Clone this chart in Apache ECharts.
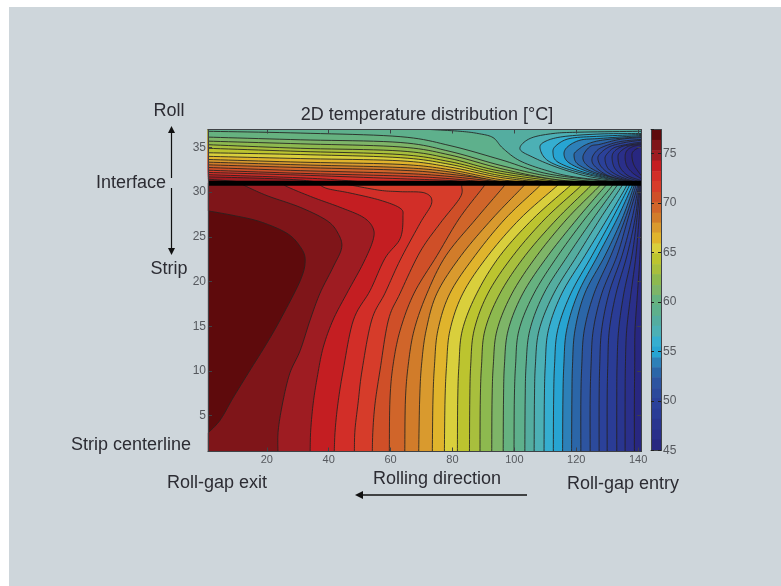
<!DOCTYPE html>
<html><head><meta charset="utf-8">
<style>
html,body{margin:0;padding:0;background:#fff;width:781px;height:586px;overflow:hidden}
#panel{position:absolute;left:9px;top:7px;width:772px;height:579px;background:#ced6db}
#chart{position:absolute;left:0;top:0;width:781px;height:586px;filter:blur(0.45px)}
</style>
<script src="https://cdn.jsdelivr.net/npm/echarts@6/dist/echarts.min.js"></script>
</head><body><div id="panel"></div><div id="chart"></div>
<script>
const xTicks=[20,40,60,80,100,120,140];
const yTicks=[5,10,15,20,25,30,35];
const interfaceY=31;
const xRange=[1,141], yRange=[1,37];
const colorbarRange=[45,77.4];
// band boundaries (deg C), hottest first; band k lies between levels k and k+1
const levels=[77.4,76.35,75.3,74.27,73.2,72.2,71.1,70.1,69,68,67,65.9,64.9,63.8,62.8,61.7,60.7,59.7,58.6,57.6,56.5,55.5,54.4,53.4,52.4,51.3,50.3,49.2,48.2,47.1,46.1,45];
const bandColors=['#5e0a0c','#7f1519','#9e1c22','#c41e22','#d22e28','#d63c2a','#cf4f28','#d0652a','#d17c2a','#d99a2e','#e0b42c','#d9cf3c','#bcc42f','#a8bf3d','#8db94f','#7eb568','#66b280','#5eb08c','#54ada0','#4cb0b5','#35aed0','#27a4d2','#2d80b8','#2b66a8','#2d54a0','#2c4a9c','#2b419a','#2a3c96','#29358f','#2a2f8a','#282780'];
// strip contours with a nose, hottest first, as [x,y]
const stripC1=[[1,3.07],[4.9,4.5],[9.1,7],[14.6,10.1],[20,13.1],[24.3,15.7],[30.8,20.1],[32.4,22.4],[30.8,23.9],[26.5,25.4],[17.8,26.7],[9.1,27.4],[1,27.9]];
const stripC2=[[23.6,1],[23.7,3.4],[25.3,6.75],[27.5,9.8],[30.8,12.3],[34,15.7],[37.2,18.7],[41.4,21.6],[44.2,23.8],[43,25.4],[39.5,26.8],[30.8,28.3],[20.1,29.6],[13,30.7],[11.7,31]];
const stripC3=[[34,1],[34.2,3.4],[35,6.4],[36.3,9.3],[38.2,12.6],[41.4,15.7],[45.9,18.7],[51.1,22],[54.3,24.6],[54.3,26],[51.1,27.2],[43.7,28.3],[35,29.4],[26.6,30.6],[25.3,31]];
const stripC4=[[41.8,1],[42.1,3.4],[43,6.4],[44.7,10.1],[48,15.7],[53.4,19],[58.2,22.6],[63.1,24.8],[64,27.2],[63.1,28.2],[56.6,29.1],[46.9,29.9],[39.5,30.4],[36.3,31]];
const stripC5=[[48.3,1],[48.5,3.4],[49.5,6.4],[50.8,10.1],[53.9,15.7],[58.2,18.7],[63.1,22.4],[69.5,26.5],[73.3,28.8],[71.1,29.9],[63.1,30.05],[56.6,30.2],[46.9,30.8],[43.7,31]];
const stripC6=[[54.1,1],[54.3,3.4],[55,6.4],[56.6,10.1],[59.3,15.7],[63.1,18.7],[69.5,23.3],[76,26.5],[82.5,29.4],[83,30.7],[83.1,31]];
// strip contours 7..30: x at each of these depths
const stripRows=[1,6.75,10.65,14.56,18.7,22.9,27,30.4,31];
const stripC7=[59.6,59.8,60.8,63.1,67.6,75,82.1,89.6,90.9];
const stripC8=[64.6,64.8,65.7,67.6,71.8,77.9,87.6,96,97.3];
const stripC9=[69.1,69.4,70,71.5,75,82.8,92.8,102.2,103.8];
const stripC10=[73.5,73.7,74.2,75.3,79.2,87.3,97,107.3,109];
const stripC11=[77.4,77.6,78.1,79.2,83.4,91.5,101.8,112.8,114.8];
const stripC12=[81.6,81.7,82.1,83.2,87.9,95.4,106,117,119];
const stripC13=[85.5,85.6,85.9,87,91.5,99.6,109.9,120.6,122.2];
const stripC14=[88.9,89,89.4,90.5,95.4,103.5,113.8,123.8,125.4];
const stripC15=[92.7,92.8,93.2,94.4,99.3,107.3,117,126.7,128.3];
const stripC16=[96.4,96.5,96.8,98,102.8,110.9,120.3,128.7,130.3];
const stripC17=[99.9,100,100.4,101.5,106.4,114.1,122.8,130.9,132.2];
const stripC18=[103.4,103.5,103.8,105,109.6,117.3,125.4,132.5,133.7];
const stripC19=[106.4,106.5,106.8,108,112.8,120.3,127.7,134.2,135.2];
const stripC20=[109.6,109.7,110,111,115.4,122.8,130,135.8,136.4];
const stripC21=[112.6,112.7,113,114,118.3,125.1,131.6,136.7,137.4];
const stripC22=[115.6,115.7,116,116.9,120.6,127,133.2,137.7,138.4];
const stripC23=[118.5,118.6,118.8,119.6,122.8,129.3,134.8,138.4,139];
const stripC24=[121.5,121.5,121.8,122.6,125.8,131.2,135.8,139,139.5];
const stripC25=[124.5,124.5,124.8,125.5,128.3,133.2,136.7,139.6,140];
const stripC26=[127.4,127.4,127.6,128.2,130.6,134.8,138,140,140.3];
const stripC27=[130,130,130.2,130.7,132.9,136.4,139,140.3,140.6];
const stripC28=[133.1,133.1,133.2,133.7,135.4,138,139.6,140.6,140.8];
const stripC29=[135.8,135.8,135.9,136.3,137.7,139.3,140.3,141,141];
const stripC30=[138.8,138.8,138.9,139,139.8,140.6,141,141,141];
// roll contours, as [x,y]; first group runs from the left edge to the interface
const rollC2=[[1,31.45],[9.8,31.2],[14.6,31]];
const rollC3=[[1,31.7],[17.8,31.55],[30.8,31.35],[38.8,31]];
const rollC4=[[1,31.95],[30.8,31.6],[45.3,31.3],[55,31]];
const rollC5=[[1,32.2],[30.8,31.9],[63.1,31.5],[79.2,31.3],[88.9,31]];
const rollC6=[[1,32.45],[30.8,32.1],[63.1,31.8],[79.2,31.5],[93.8,31]];
const rollC7=[[1,32.75],[30.8,32.4],[63.1,32.1],[79.2,31.75],[98.6,31]];
const rollC8=[[1,33.05],[30.8,32.75],[63.1,32.45],[79.2,32],[101.8,31]];
const rollC9=[[1,33.35],[30.8,33.05],[63.1,32.75],[79.2,32.25],[95.4,31.2],[105.1,31]];
const rollC10=[[1,33.65],[30.8,33.35],[63.1,33.1],[79.2,32.5],[95.4,31.4],[108.3,31]];
const rollC11=[[1,34],[30.8,33.75],[63.1,33.5],[79.2,32.8],[95.4,31.65],[111.5,31]];
const rollC12=[[1,34.4],[30.8,34.2],[63.1,33.85],[79.2,33.1],[95.4,31.85],[114.8,31]];
const rollC13=[[1,34.9],[30.8,34.55],[63.1,34.2],[79.2,33.4],[95.4,32.1],[118,31]];
const rollC14=[[1,35.3],[30.8,34.9],[63.1,34.6],[79.2,33.75],[95.4,32.35],[121.2,31]];
const rollC15=[[1,35.7],[30.8,35.4],[63.1,35.05],[79.2,34.15],[95.4,32.65],[111.5,31.5],[126,31]];
const rollC16=[[1,36.15],[30.8,35.85],[63.1,35.55],[79.2,34.55],[95.4,33],[111.5,31.75],[130.9,31]];
const rollC17=[[1,36.8],[30.8,36.6],[63.1,36.2],[79.2,35.2],[95.4,33.65],[111.5,32],[135.8,31]];
const rollC18=[[72.8,37],[82.5,36.8],[88.3,36.55],[93.1,36.1],[96.3,34.9],[101.8,33.5],[110.6,32.4],[120.3,31.65],[138.4,31]];
// second group runs from the right or top edge round a nose to the interface
const rollC19=[[141,36.8],[121.2,36.7],[112.5,36.55],[105.1,36],[101.8,34.85],[106,33.9],[114.8,32.65],[125.4,31.65],[140,31]];
const rollC20=[[141,36.55],[127.7,36.5],[115.7,36.2],[109.9,35.65],[108.3,34.9],[110.9,33.5],[118.9,32.4],[130,31.5],[140.3,31]];
const rollC21=[[141,36.44],[127.7,36.25],[118,36],[113.5,35.2],[112.5,34.4],[114.1,33.35],[122.2,32.25],[132.5,31.4],[140.6,31]];
const rollC22=[[141,36.33],[127.7,36],[121.2,35.8],[117,35],[116.1,34.1],[118,33.2],[124.5,32.2],[134.2,31.3],[140.6,31]];
const rollC23=[[141,36.2],[129.3,35.85],[123.8,35.4],[120.3,34.65],[119.3,34.1],[120.6,33.1],[126.7,32.1],[135.8,31.3],[140.8,31]];
const rollC24=[[141,36.1],[134.2,35.9],[127.7,35.35],[124.5,35.1],[122.2,34],[123.5,33],[128.7,32],[136.7,31.2],[141,31]];
const rollC25=[[141,35.9],[134.2,35.65],[129.3,35.15],[126.7,34.65],[125.1,33.75],[126,32.9],[130.3,31.85],[137.4,31.2],[141,31]];
const rollC26=[[141,35.8],[135.8,35.55],[130.9,35.1],[128,34.4],[127,33.75],[128.3,32.75],[131.9,31.85],[138,31.2],[141,31]];
const rollC27=[[141,35.6],[137.4,35.4],[132.5,35],[130.3,34.4],[129.3,33.75],[130.3,32.65],[133.5,31.85],[138.7,31.2],[141,31.1]];
const rollC28=[[141,35.5],[138.7,35.35],[134.8,35.1],[132.2,34.5],[131.6,33.75],[132.5,32.65],[135.2,31.85],[139.3,31.3],[141,31.2]];
const rollC29=[[141,35.4],[139.3,35.3],[136.7,35.1],[134.2,34.5],[133.5,33.9],[134.2,32.75],[136.7,31.85],[140,31.4],[141,31.3]];
const rollC30=[[141,35.3],[138.4,35.1],[136.4,34.65],[135.8,33.9],[136.4,32.9],[138.4,32.1],[141,31.5]];
const rollC31=[[141,35.1],[138.7,34.65],[138,34.1],[138.7,33],[141,31.85]];

const stripRowTables=[stripC7,stripC8,stripC9,stripC10,stripC11,stripC12,stripC13,stripC14,stripC15,stripC16,stripC17,stripC18,stripC19,stripC20,stripC21,stripC22,stripC23,stripC24,stripC25,stripC26,stripC27,stripC28,stripC29,stripC30];
const [x0,x1]=xRange,[y0,y1]=yRange;
const strip=[
 {k:0,pts:[],close:[[x0,y0],[x1,y0],[x1,interfaceY],[x0,interfaceY]]},
 {k:1,pts:stripC1,close:[[x0,interfaceY],[x1,interfaceY],[x1,y0],[x0,y0]]}
];
[stripC2,stripC3,stripC4,stripC5,stripC6].forEach((p,i)=>strip.push({k:i+2,pts:p,close:[[x1,interfaceY],[x1,y0]]}));
stripRowTables.forEach((t,i)=>strip.push({k:i+7,pts:t.map((x,r)=>[x,stripRows[r]]),close:[[x1,interfaceY],[x1,y0]]}));
const roll=[{k:1,pts:[],close:[[x0,interfaceY],[x1,interfaceY],[x1,y1],[x0,y1]]}];
[rollC2,rollC3,rollC4,rollC5,rollC6,rollC7,rollC8,rollC9,rollC10,rollC11,rollC12,rollC13,rollC14,rollC15,rollC16,rollC17].forEach((p,i)=>roll.push({k:i+2,pts:p,close:[[x1,interfaceY],[x1,y1],[x0,y1]]}));
roll.push({k:18,pts:rollC18,close:[[x1,interfaceY],[x1,y1]]});
[rollC19,rollC20,rollC21,rollC22,rollC23,rollC24,rollC25,rollC26,rollC27,rollC28,rollC29,rollC30,rollC31].forEach((p,i)=>roll.push({k:Math.min(i+19,30),pts:p,close:[[x1,interfaceY]]}));

// Catmull-Rom pass through the read points, drawn in screen space
function spline(p){
  if(p.length<3) return p;
  const out=[];
  for(let i=0;i<p.length-1;i++){
    const a=p[Math.max(i-1,0)],b=p[i],c=p[i+1],d=p[Math.min(i+2,p.length-1)];
    for(let s=0;s<10;s++){
      const t=s/10,t2=t*t,t3=t2*t;
      out.push([0,1].map(j=>0.5*(2*b[j]+(c[j]-a[j])*t+(2*a[j]-5*b[j]+4*c[j]-d[j])*t2+(3*b[j]-a[j]-3*c[j]+d[j])*t3)));
    }
  }
  out.push(p[p.length-1]);
  return out;
}
function contourSeries(list){
  return {type:'custom',coordinateSystem:'cartesian2d',xAxisIndex:0,yAxisIndex:0,silent:true,animation:false,clip:false,z:2,
    data:list.map((c,i)=>[x0,y0,i]),
    renderItem(params,api){
      const c=list[api.value(2)];
      const g=params.coordSys;
      const clamp=q=>[Math.min(g.x+g.width,Math.max(g.x,q[0])),Math.min(g.y+g.height,Math.max(g.y,q[1]))];
      const curve=spline(c.pts.map(q=>api.coord(q))).map(clamp);
      const corners=c.close.map(q=>api.coord(q));
      const children=[{type:'polygon',shape:{points:curve.concat(corners)},style:{fill:bandColors[c.k],stroke:bandColors[c.k],lineWidth:0.3}}];
      if(curve.length) children.push({type:'polyline',shape:{points:curve},style:{fill:'none',stroke:'#24211f',lineWidth:1,opacity:0.85}});
      return {type:'group',children};
    }};
}
const axisCol='#3f4246', labelCol='#55585d';
const hiddenLabel={show:false};
function xAxisCfg(pos,labels){return {type:'value',gridIndex:0,position:pos,min:x0,max:x1,z:5,splitLine:{show:false},
  axisLine:{show:true,onZero:false,lineStyle:{color:axisCol,width:1}},
  axisTick:{show:true,inside:true,length:4,customValues:xTicks,lineStyle:{color:axisCol}},
  axisLabel:labels?{show:true,customValues:xTicks,color:labelCol,fontSize:11,margin:3,fontFamily:'Liberation Sans'}:hiddenLabel};}
function yAxisCfg(pos,labels){return {type:'value',gridIndex:0,position:pos,min:y0,max:y1,z:5,splitLine:{show:false},
  axisLine:{show:true,onZero:false,lineStyle:{color:axisCol,width:1}},
  axisTick:{show:true,inside:true,length:4,customValues:yTicks,lineStyle:{color:axisCol}},
  axisLabel:labels?{show:true,customValues:yTicks,color:labelCol,fontSize:12,margin:2,fontFamily:'Liberation Sans'}:hiddenLabel};}
const textCol='#2c2c33', txt=(s,x,y)=>({type:'text',z:20,silent:true,style:{text:s,x,y,align:'center',verticalAlign:'middle',fill:textCol,font:'18px "Liberation Sans"'}});
const arrowCol='#111';
const option={
  animation:false,backgroundColor:'transparent',
  grid:[{left:208,top:129.5,width:433.2,height:322},{left:651,top:129.5,width:10,height:321}],
  xAxis:[xAxisCfg('bottom',true),xAxisCfg('top',false),
    {type:'value',gridIndex:1,position:'bottom',min:0,max:1,z:5,splitLine:{show:false},axisTick:{show:false},axisLabel:{show:false},axisLine:{show:true,onZero:false,lineStyle:{color:axisCol}}},
    {type:'value',gridIndex:1,position:'top',min:0,max:1,z:5,splitLine:{show:false},axisTick:{show:false},axisLabel:{show:false},axisLine:{show:true,onZero:false,lineStyle:{color:axisCol}}}],
  yAxis:[yAxisCfg('left',true),yAxisCfg('right',false),
    {type:'value',gridIndex:1,position:'right',min:colorbarRange[0],max:colorbarRange[1],interval:5,z:5,splitLine:{show:false},
      axisLine:{show:true,onZero:false,lineStyle:{color:axisCol}},axisTick:{show:true,inside:true,length:3,lineStyle:{color:'#222'}},
      axisLabel:{color:labelCol,fontSize:12,margin:2,fontFamily:'Liberation Sans',showMaxLabel:false}},
    {type:'value',gridIndex:1,position:'left',min:colorbarRange[0],max:colorbarRange[1],interval:5,z:5,splitLine:{show:false},
      axisLine:{show:true,onZero:false,lineStyle:{color:axisCol}},axisTick:{show:true,inside:true,length:3,lineStyle:{color:'#222'}},axisLabel:{show:false}}],
  series:[
    contourSeries(strip),
    contourSeries(roll),
    {type:'line',xAxisIndex:0,yAxisIndex:0,data:[[x0,interfaceY],[x1,interfaceY]],symbol:'none',silent:true,z:4,clip:false,lineStyle:{color:'#000',width:5,cap:'butt'}},
    {type:'custom',coordinateSystem:'cartesian2d',xAxisIndex:2,yAxisIndex:2,silent:true,clip:false,z:2,
      data:bandColors.map((c,i)=>[0,levels[i+1],1,levels[i]]),
      renderItem(params,api){
        const a=api.coord([api.value(0),api.value(3)]),b=api.coord([api.value(2),api.value(1)]);
        return {type:'rect',shape:{x:a[0],y:a[1],width:b[0]-a[0],height:b[1]-a[1]+0.5},style:{fill:bandColors[params.dataIndex]}};
      }}
  ],
  graphic:[
    txt('2D temperature distribution [°C]',427,115),
    txt('Roll',169,111),txt('Interface',131,183),txt('Strip',169,269),txt('Strip centerline',131,445),
    txt('Roll-gap exit',217,483),txt('Rolling direction',437,479),txt('Roll-gap entry',623,484),
    {type:'line',z:20,silent:true,shape:{x1:171.5,y1:132,x2:171.5,y2:178},style:{stroke:arrowCol,lineWidth:1.2}},
    {type:'polygon',z:20,silent:true,shape:{points:[[171.5,126],[168,133],[175,133]]},style:{fill:arrowCol}},
    {type:'line',z:20,silent:true,shape:{x1:171.5,y1:188,x2:171.5,y2:250},style:{stroke:arrowCol,lineWidth:1.2}},
    {type:'polygon',z:20,silent:true,shape:{points:[[171.5,255],[168,248],[175,248]]},style:{fill:arrowCol}},
    {type:'line',z:20,silent:true,shape:{x1:362,y1:495,x2:527,y2:495},style:{stroke:arrowCol,lineWidth:1.4}},
    {type:'polygon',z:20,silent:true,shape:{points:[[355,495],[363,491],[363,499]]},style:{fill:arrowCol}}
  ]
};
const chart=echarts.init(document.getElementById('chart'),null,{renderer:'canvas',width:781,height:586});
chart.setOption(option);
</script>
</body></html>
